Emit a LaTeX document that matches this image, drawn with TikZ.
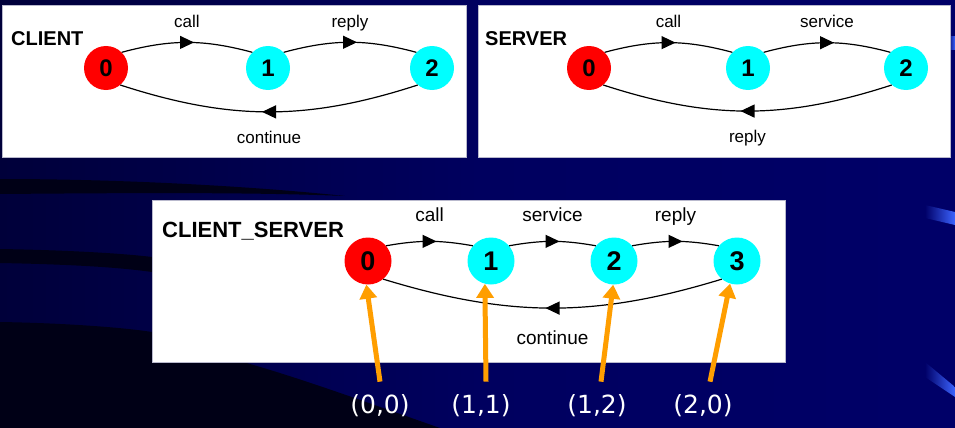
\documentclass[tikz,border=0pt]{standalone}
\usepackage{fontspec}
\setmainfont{Liberation Sans}
\newfontfamily\tagfont{DejaVu Sans}
\usetikzlibrary{arrows.meta,decorations.markings}
\definecolor{bgleft}{RGB}{0,0,58}
\definecolor{bgright}{RGB}{0,0,104}
\definecolor{swoosh}{RGB}{0,0,22}
\definecolor{swooshblue}{RGB}{60,100,255}
\definecolor{panelline}{RGB}{185,185,205}
\definecolor{tagorange}{RGB}{255,158,0}
\definecolor{staterd}{RGB}{255,0,0}
\definecolor{statecy}{RGB}{0,255,255}

\begin{document}
\begin{tikzpicture}[x=1pt,y=-1pt,
        state/.style={circle,minimum size=44pt,inner sep=0pt,font=\fontsize{24}{24}\selectfont\bfseries},
        bigstate/.style={state,minimum size=47pt,font=\fontsize{27}{27}\selectfont\bfseries},
        initstate/.style={fill=staterd},
        otherstate/.style={fill=statecy},
        trans/.style={line width=1.2pt,postaction={decorate},
            decoration={markings,mark=at position 0.5 with {\arrow[xshift=7pt]{Triangle[length=14pt,width=13pt]}}}},
        act/.style={inner sep=0pt,text height=12pt,text depth=3.5pt,font=\fontsize{17}{17}\selectfont},
        bigact/.style={act,text height=13.5pt,text depth=4pt,font=\fontsize{19}{19}\selectfont},
        title/.style={anchor=base west,inner sep=0pt,font=\fontsize{20}{20}\selectfont\bfseries},
        panel/.style={fill=white,draw=panelline,line width=0.8pt},
        tag/.style={text=white,inner sep=0pt,font=\tagfont\fontsize{25}{25}\selectfont},
        tagarrow/.style={draw=tagorange,line width=5pt,-{Triangle[length=14pt,width=17pt,fill=tagorange]}}
    ]
    \useasboundingbox (0,0) rectangle (955,428);
    \shade[left color=bgleft,right color=bgright,middle color=bgright!80!bgleft] (0,0) rectangle (955,428);
    \fill[swoosh] (0,179) .. controls (120,179) and (250,186) .. (345,196)
        .. controls (250,192) and (120,193) .. (0,194) -- cycle;
    \fill[swoosh] (0,249) .. controls (60,250) and (120,253) .. (152,257)
        -- (152,272) .. controls (110,266) and (50,264) .. (0,263) -- cycle;
    \fill[swoosh] (0,322) .. controls (60,323) and (120,327) .. (152,332) -- (152,362) -- (243,362)
        .. controls (300,378) and (360,400) .. (440,428) -- (0,428) -- cycle;
    \shade[left color=bgright,right color=swooshblue] (925,205) -- (955,212) -- (955,225) -- (925,218) -- cycle;
    \shade[left color=bgright,right color=swooshblue] (925,362) -- (955,387) -- (955,397) -- (925,377) -- cycle;
    \shade[left color=bgright,right color=swooshblue] (948,37) -- (955,37) -- (955,50) -- (948,50) -- cycle;

    \path[panel] (2,5) rectangle (466,157);
    \node[title] (clienttitle) at (11,46) {CLIENT};
    \node[state,initstate] (c0) at (106,68) {0};
    \node[state,otherstate] (c1) at (268,68) {1};
    \node[state,otherstate] (c2) at (432,68) {2};
    \draw[trans] (c0.45) to[bend left=15] node[act,above=11pt] {call} (c1.135);
    \draw[trans] (c1.45) to[bend left=15] node[act,above=11pt] {reply} (c2.135);
    \draw[trans] (c2.-130) to[bend left=18] node[act,below=19pt] {continue} (c0.-50);

    \path[panel] (478,5) rectangle (950,157);
    \node[title] (servertitle) at (485,46) {SERVER};
    \node[state,initstate] (s0) at (589,68) {0};
    \node[state,otherstate] (s1) at (748,68) {1};
    \node[state,otherstate] (s2) at (906,68) {2};
    \draw[trans] (s0.45) to[bend left=15] node[act,above=11pt] {call} (s1.135);
    \draw[trans] (s1.45) to[bend left=15] node[act,above=11pt] {service} (s2.135);
    \draw[trans] (s2.-130) to[bend left=18] node[act,below=19pt] {reply} (s0.-50);

    \path[panel] (152,200) rectangle (785,362);
    \node[title,font=\fontsize{22}{22}\selectfont\bfseries] (bothtitle) at (162,237) {CLIENT\_SERVER};
    \node[bigstate,initstate] (b0) at (368,261) {0};
    \node[bigstate,otherstate] (b1) at (491,261) {1};
    \node[bigstate,otherstate] (b2) at (614,261) {2};
    \node[bigstate,otherstate] (b3) at (737,261) {3};
    \draw[trans] (b0.40) to[bend left=10] node[bigact,above=15pt] {call} (b1.140);
    \draw[trans] (b1.40) to[bend left=10] node[bigact,above=15pt] {service} (b2.140);
    \draw[trans] (b2.40) to[bend left=10] node[bigact,above=15pt] {reply} (b3.140);
    \draw[trans] (b3.-130) to[bend left=17] node[bigact,below=22pt] {continue} (b0.-50);

    \node[tag] (t0) at (380,406) {(0,0)};
    \node[tag] (t1) at (481,406) {(1,1)};
    \node[tag] (t2) at (597,406) {(1,2)};
    \node[tag] (t3) at (703,406) {(2,0)};
    \draw[tagarrow] ([yshift=13pt]t0.north) -- (b0.266);
    \draw[tagarrow] ([xshift=5pt,yshift=13pt]t1.north) -- (b1.255);
    \draw[tagarrow] ([xshift=4pt,yshift=13pt]t2.north) -- (b2.268);
    \draw[tagarrow] ([xshift=7pt,yshift=13pt]t3.north) -- (b3.253);
\end{tikzpicture}
\end{document}
